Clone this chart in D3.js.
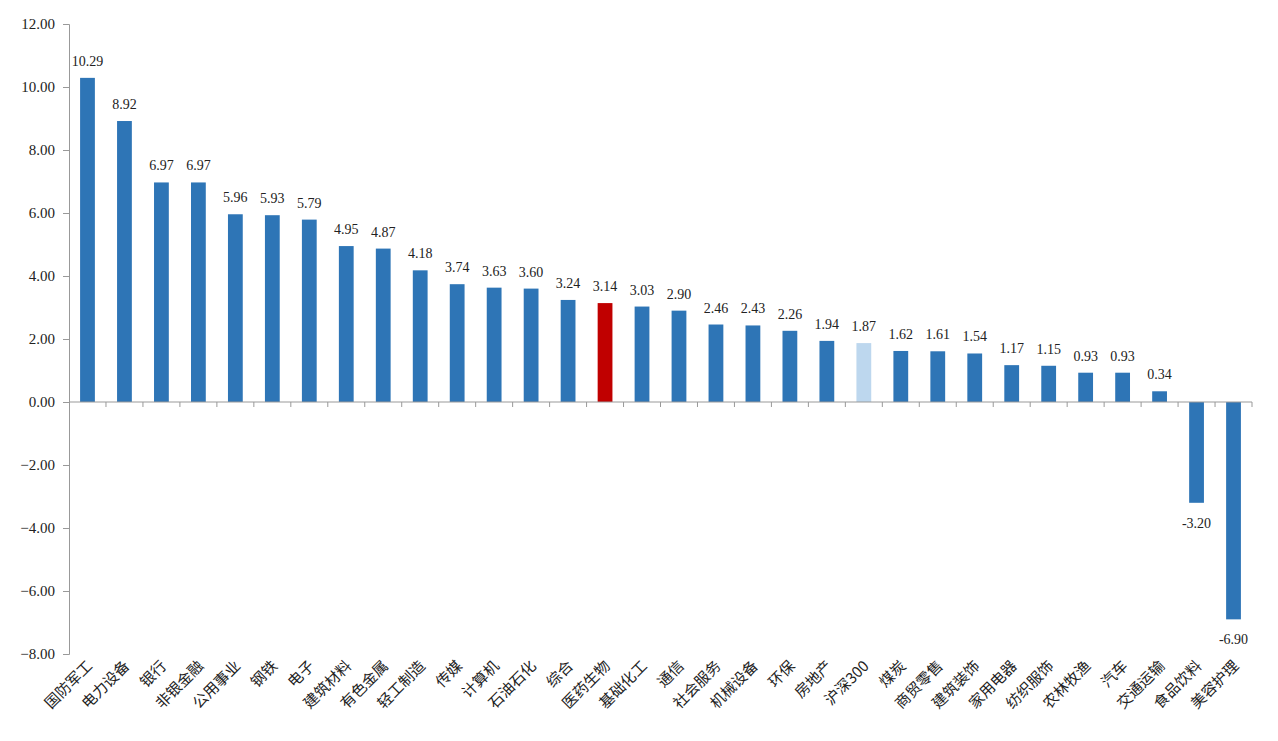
<!DOCTYPE html>
<html>
<head>
<meta charset="utf-8">
<script src="https://cdn.jsdelivr.net/npm/d3@7"></script>
<style>
  body { margin: 0; background: #fff; }
  svg text { fill: #222; }
</style>
</head>
<body>
<svg id="wrapper" width="1278" height="741"></svg>
<script>
// 行业涨跌幅 (%)
let categories = ["国防军工", "电力设备", "银行", "非银金融", "公用事业", "钢铁", "电子", "建筑材料", "有色金属", "轻工制造",
	"传媒", "计算机", "石油石化", "综合", "医药生物", "基础化工", "通信", "社会服务", "机械设备", "环保",
	"房地产", "沪深300", "煤炭", "商贸零售", "建筑装饰", "家用电器", "纺织服饰", "农林牧渔", "汽车", "交通运输",
	"食品饮料", "美容护理"];
categories = categories.filter((d, i) => i < 32);
let values = [10.29, 8.92, 6.97, 6.97, 5.96, 5.93, 5.79, 4.95, 4.87, 4.18,
	3.74, 3.63, 3.60, 3.24, 3.14, 3.03, 2.90, 2.46, 2.43, 2.26,
	1.94, 1.87, 1.62, 1.61, 1.54, 1.17, 1.15, 0.93, 0.93, 0.34,
	-3.20, -6.90];
let yTicks = [12, 10, 8, 6, 4, 2, 0, -2, -4, -6, -8];

const highlightRed = "医药生物";
const highlightIndex = "沪深300";

let svg = d3.select("#wrapper");
let margin = { left: 69, right: 26, top: 24, bottom: 87 };
let width = 1278;
let height = 741;

let x = d3.scaleBand()
	.domain(categories)
	.range([margin.left, width - margin.right])
	.paddingInner(0.6)
	.paddingOuter(0.3);

let y = d3.scaleLinear()
	.domain([-8, 12])
	.range([height - margin.bottom, margin.top]);

let barColor = function (name) {
	if (name === highlightRed) return "#C00000";
	if (name === highlightIndex) return "#BDD7EE";
	return "#2E75B6";
};

// y axis
let yAxis = svg.append("g")
	.attr("transform", "translate(" + margin.left + ",0)")
	.call(d3.axisLeft(y).tickValues(yTicks).tickSize(6).tickPadding(8).tickFormat(d3.format(".2f")));
yAxis.select(".domain").attr("stroke", "#999");
yAxis.selectAll(".tick line").attr("stroke", "#999");
yAxis.selectAll("text")
	.attr("font-family", "'Liberation Serif', 'Times New Roman', serif")
	.attr("font-size", 15)
	.attr("fill", "#222");

// bars
svg.selectAll("rect.bar")
	.data(categories)
	.enter()
	.append("rect")
	.attr("class", "bar")
	.attr("x", (d) => x(d))
	.attr("width", x.bandwidth())
	.attr("y", (d, i) => y(Math.max(0, values[i])))
	.attr("height", (d, i) => Math.abs(y(values[i]) - y(0)))
	.attr("fill", (d) => barColor(d));

// zero axis with ticks between bands
let step = x.step();
let bandEdges = categories.map((d) => x(d) - (step - x.bandwidth()) / 2).concat([width - margin.right]);
svg.append("line")
	.attr("x1", margin.left)
	.attr("x2", width - margin.right)
	.attr("y1", y(0))
	.attr("y2", y(0))
	.attr("stroke", "#999");
svg.selectAll("line.xtick")
	.data(bandEdges.slice(1))
	.enter()
	.append("line")
	.attr("class", "xtick")
	.attr("x1", (d) => d)
	.attr("x2", (d) => d)
	.attr("y1", y(0))
	.attr("y2", y(0) + 5)
	.attr("stroke", "#999");

// value labels
svg.selectAll("text.val")
	.data(categories)
	.enter()
	.append("text")
	.attr("class", "val")
	.attr("x", (d) => x(d) + x.bandwidth() / 2)
	.attr("y", (d, i) => values[i] >= 0 ? y(values[i]) - 12 : y(values[i]) + 25)
	.attr("text-anchor", "middle")
	.attr("font-family", "'Liberation Serif', 'Times New Roman', serif")
	.attr("font-size", 14)
	.text((d, i) => values[i].toFixed(2));

// category labels
svg.selectAll("text.cat")
	.data(categories)
	.enter()
	.append("text")
	.attr("class", "cat")
	.attr("transform", (d) => "translate(" + (x(d) + x.bandwidth() / 2 + 6) + "," + (height - margin.bottom + 13) + ") rotate(-45)")
	.attr("text-anchor", "end")
	.attr("font-family", "'Noto Sans CJK SC', sans-serif")
	.attr("font-size", 15)
	.text((d) => d);
</script>
</body>
</html>
